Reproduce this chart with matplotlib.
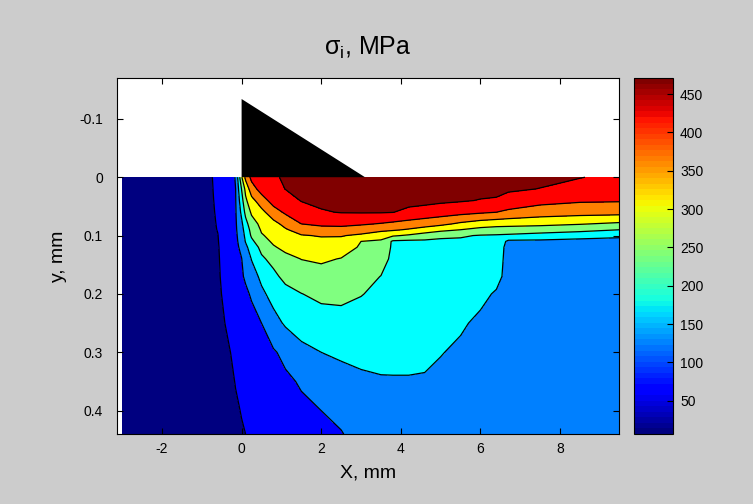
import matplotlib
matplotlib.use("Agg")
import matplotlib.pyplot as plt
import numpy as np
from matplotlib.cm import ScalarMappable
from matplotlib.colors import Normalize

# grid nodes of the stress map (mm)
x_mm = [-3.0, -1.5, -1.0, -0.6, -0.3, -0.15, 0.0, 0.1, 0.25, 0.5, 0.8, 1.1, 1.5,
        2.0, 2.5, 3.0, 3.5, 3.8, 4.2, 4.6, 5.0, 5.5, 6.0, 6.4, 6.7, 7.5, 8.5, 9.5]
y_mm = [0.0, 0.02, 0.04, 0.06, 0.08, 0.09, 0.10, 0.11, 0.12, 0.14, 0.17, 0.20,
        0.25, 0.30, 0.35, 0.40, 0.44]

# sigma_i, MPa -- one list per x node, going down in depth (y_mm order)
sigma_cols = [
    [12, 12, 13, 13, 14, 14, 14, 15, 15, 16, 17, 18, 20, 22, 25, 28, 30],
    [28, 28, 29, 29, 29, 30, 30, 30, 30, 31, 32, 33, 35, 36, 38, 40, 41],
    [38, 39, 40, 41, 42, 42, 43, 43, 43, 44, 44, 45, 45, 44, 44, 44, 44],
    [68, 66, 64, 62, 60, 59, 57, 56, 55, 54, 53, 52, 49, 48, 47, 47, 46],
    [97, 95, 93, 91, 89, 88, 87, 86, 84, 81, 77, 71, 64, 57, 53, 52, 50],
    [112, 110, 108, 106, 104, 103, 101, 100, 99, 96, 91, 83, 72, 64, 59, 55, 53],
    [259, 215, 192, 172, 151, 142, 135, 128, 120, 109, 105, 94, 81, 71, 63, 59, 56],
    [330, 279, 255, 227, 195, 183, 173, 164, 149, 131, 116, 102, 87, 75, 66, 61, 58],
    [382, 345, 300, 273, 243, 229, 220, 202, 185, 163, 139, 115, 95, 81, 71, 65, 61],
    [390, 390, 343, 302, 278, 270, 261, 245, 226, 205, 172, 151, 110, 92, 79, 71, 66],
    [410, 399, 390, 345, 301, 288, 278, 273, 260, 228, 201, 178, 144, 105, 89, 79, 73],
    [428, 420, 399, 376, 330, 311, 300, 289, 278, 250, 227, 196, 167, 122, 101, 89, 82],
    [440, 431, 421, 397, 368, 337, 313, 301, 289, 266, 239, 212, 181, 149, 115, 100, 90],
    [452, 441, 429, 415, 377, 352, 319, 306, 294, 272, 247, 224, 191, 161, 135, 110, 100],
    [460, 447, 434, 421, 380, 352, 319, 303, 289, 263, 244, 225, 195, 168, 145, 124, 107],
    [465, 451, 436, 422, 374, 342, 307, 265, 259, 248, 231, 215, 192, 171, 154, 141, 130],
    [465, 451, 436, 422, 365, 330, 282, 259, 251, 234, 212, 202, 187, 171, 158, 148, 140],
    [465, 450, 435, 420, 358, 323, 271, 205, 204, 201, 196, 191, 182, 172, 158, 150, 145],
    [462, 448, 433, 408, 349, 311, 258, 202, 201, 199, 195, 190, 181, 172, 158, 150, 145],
    [459, 445, 431, 401, 339, 296, 240, 204, 202, 200, 195, 189, 180, 170, 157, 150, 145],
    [455, 440, 427, 393, 328, 280, 222, 205, 203, 200, 195, 188, 178, 163, 150, 148, 146],
    [450, 436, 423, 384, 307, 265, 218, 205, 202, 197, 190, 182, 167, 153, 150, 148, 146],
    [445, 432, 417, 375, 291, 250, 210, 203, 200, 194, 184, 172, 152, 148, 147, 146, 145],
    [441, 429, 415, 368, 284, 244, 208, 200, 197, 190, 175, 156, 148, 147, 146, 145, 145],
    [437, 426, 401, 358, 282, 242, 205, 150, 140, 139, 145, 147, 147, 146, 146, 145, 145],
    [430, 418, 384, 342, 277, 238, 194, 150, 145, 143, 143, 143, 143, 143, 143, 143, 143],
    [421, 399, 374, 335, 268, 228, 182, 145, 144, 143, 143, 143, 143, 143, 143, 143, 143],
    [405, 392, 372, 333, 256, 213, 170, 145, 143, 142, 142, 142, 142, 142, 142, 142, 142],
]

levels = [0, 58, 110, 161, 213, 265, 316, 368, 419, 500]
fill_colors = ["#000080", "#0000ff", "#0080ff", "#00ffff", "#80ff80",
               "#ffff00", "#ff8000", "#ff0000", "#800000"]
cbar_min, cbar_max = 6.6, 471.0
cbar_ticks = [50, 100, 150, 200, 250, 300, 350, 400, 450]

# indenter profile (mm)
tool_x = [0.0, 0.0, 3.1]
tool_y = [0.0, -0.134, 0.0]

xticks = [-2, 0, 2, 4, 6, 8]
yticks = [-0.1, 0, 0.1, 0.2, 0.3, 0.4]
ytick_labels = ["-0.1", "0", "0.1", "0.2", "0.3", "0.4"]

plt.rcParams["font.family"] = ["Liberation Sans", "DejaVu Sans"]

W, H = 753, 504
fig = plt.figure(figsize=(W / 100, H / 100), dpi=100, facecolor="#cccccc")
ax = fig.add_axes([117 / W, 1 - 434 / H, 502 / W, 356 / H])
cax = fig.add_axes([634 / W, 1 - 434 / H, 39 / W, 356 / H])

Z = np.array(sigma_cols).T
ax.contourf(x_mm, y_mm, Z, levels=levels, colors=fill_colors)
ax.contour(x_mm, y_mm, Z, levels=levels[1:-1], colors="k", linewidths=0.9)
ax.fill(tool_x, tool_y, color="k", lw=0)

ax.set_xlim(-3.13, 9.48)
ax.set_ylim(0.44, -0.17)
ax.set_facecolor("white")
ax.set_xticks(xticks)
ax.set_xticklabels([str(t) for t in xticks])
ax.set_yticks(yticks)
ax.set_yticklabels(ytick_labels)
ax.tick_params(direction="in", top=True, right=True, length=4, width=0.8,
               labelsize=10)
ax.tick_params(axis="x", pad=6)
ax.tick_params(axis="y", pad=10)
for s in ax.spines.values():
    s.set_linewidth(0.8)

ax.set_xlabel("X, mm", fontsize=14, labelpad=6)
ax.set_ylabel("y, mm", fontsize=14, labelpad=9)
ax.set_title("σ$_\\mathregular{i}$, MPa", fontsize=18, pad=17)

sm = ScalarMappable(norm=Normalize(cbar_min, cbar_max), cmap=plt.get_cmap("jet", 64))
cb = fig.colorbar(sm, cax=cax, ticks=cbar_ticks)
cax.tick_params(direction="in", length=4, width=0.8, labelsize=10, pad=5)
cb.outline.set_linewidth(0.8)

fig.savefig("out.png", dpi=100, facecolor=fig.get_facecolor())
